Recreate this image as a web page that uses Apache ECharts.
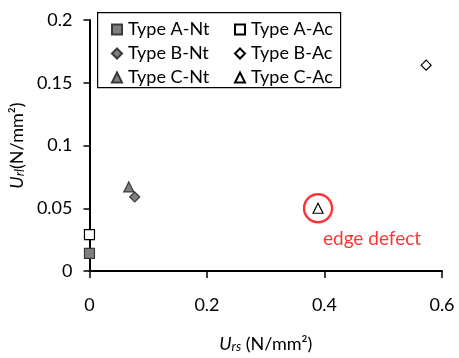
<!DOCTYPE html>
<html>
<head>
<meta charset="utf-8">
<script src="https://cdn.jsdelivr.net/npm/echarts@6/dist/echarts.min.js"></script>
<style>html,body{margin:0;padding:0;background:#fff}#c{width:459px;height:358px}</style>
</head>
<body>
<div id="c"></div>
<script>
// Data
const seriesNames = ['Type A-Nt', 'Type A-Ac', 'Type B-Nt', 'Type B-Ac', 'Type C-Nt', 'Type C-Ac'];
const typeANt = [[0, 0.014]];
const typeAAc = [[0, 0.029]];
const typeBNt = [[0.077, 0.059]];
const typeBAc = [[0.573, 0.164]];
const typeCNt = [[0.067, 0.067]];
const typeCAc = [[0.389, 0.050]];
const highlightedPoint = typeCAc;
const annotationText = 'edge defect';
const xTicks = [0, 0.6, 0.2];   // min, max, interval
const yTicks = [0, 0.2, 0.05];

const FONT = 'Lato';
const diamond = 'path://M5,0 L10,5 L5,10 L0,5 Z';
const gray = '#7f7f7f';
const dark = '#3a3a3a';

function sc(name, data, symbol, size, fill, border) {
  return {
    name: name, type: 'scatter', data: data, symbol: symbol, symbolSize: size,
    clip: false, z: 3,
    itemStyle: { color: fill, borderColor: border, borderWidth: 1.2, opacity: 1 },
    emphasis: { disabled: true }
  };
}

const nameRich = {
  u: { fontFamily: FONT, fontSize: 18, fontStyle: 'italic', color: '#000', verticalAlign: 'bottom', lineHeight: 22 },
  s: { fontFamily: FONT, fontSize: 13, fontStyle: 'italic', color: '#000', verticalAlign: 'bottom', lineHeight: 14 },
  n: { fontFamily: FONT, fontSize: 18, color: '#000', verticalAlign: 'bottom', lineHeight: 22 }
};

const chart = echarts.init(document.getElementById('c'));
chart.setOption({
  animation: false,
  backgroundColor: '#fff',
  textStyle: { fontFamily: FONT },
  grid: { left: 87, right: 17, top: 20, bottom: 86 },
  xAxis: {
    type: 'value', min: xTicks[0], max: xTicks[1], interval: xTicks[2],
    splitLine: { show: false },
    axisLine: { lineStyle: { color: '#000', width: 2 } },
    axisTick: { show: true, length: 7, lineStyle: { color: '#000', width: 1.5 } },
    axisLabel: { fontFamily: FONT, fontSize: 18, color: '#000', margin: 25 },
    name: '{u|U}{s|rs}{n| (N/mm²)}',
    nameLocation: 'middle', nameGap: 60,
    nameTextStyle: { rich: nameRich }
  },
  yAxis: {
    type: 'value', min: yTicks[0], max: yTicks[1], interval: yTicks[2],
    splitLine: { show: false },
    axisLine: { show: true, lineStyle: { color: '#000', width: 2 } },
    axisTick: { show: true, length: 6, lineStyle: { color: '#000', width: 1.5 } },
    axisLabel: { fontFamily: FONT, fontSize: 18, color: '#000', margin: 17 },
    name: '{u|U}{s|rl}{n|(N/mm²)}',
    nameLocation: 'middle', nameGap: 51, nameRotate: 90,
    nameTextStyle: { rich: nameRich }
  },
  graphic: [{
    type: 'rect', left: 97, top: 12, z: 1,
    shape: { width: 243, height: 75 },
    style: { fill: '#fff', stroke: '#000', lineWidth: 1.2 }
  }],
  legend: [{
    orient: 'vertical', left: 106, top: 15, itemGap: 5,
    itemWidth: 10, itemHeight: 10, z: 5,
    data: [seriesNames[0], seriesNames[2], seriesNames[4]],
    textStyle: { fontFamily: FONT, fontSize: 18, color: '#000', lineHeight: 19, padding: [0, 0, 0, 1] },
    selectedMode: false
  }, {
    orient: 'vertical', left: 229, top: 15, itemGap: 5,
    itemWidth: 10, itemHeight: 10, z: 5,
    data: [seriesNames[1], seriesNames[3], seriesNames[5]],
    textStyle: { fontFamily: FONT, fontSize: 18, color: '#000', lineHeight: 19, padding: [0, 0, 0, 1] },
    selectedMode: false
  }],
  series: [
    sc(seriesNames[0], typeANt, 'rect', 10, gray, dark),
    sc(seriesNames[1], typeAAc, 'rect', 10, '#fff', '#000'),
    sc(seriesNames[2], typeBNt, diamond, 10, gray, dark),
    sc(seriesNames[3], typeBAc, diamond, 10, '#fff', '#000'),
    sc(seriesNames[4], typeCNt, 'triangle', 10, gray, dark),
    sc(seriesNames[5], typeCAc, 'triangle', 10, '#fff', '#000'),
    {
      name: 'highlight', type: 'scatter', data: highlightedPoint, symbol: 'circle', symbolSize: 28,
      clip: false, z: 4, silent: true,
      itemStyle: { color: 'transparent', borderColor: '#ff0000', borderWidth: 2.4 },
      label: {
        show: true, position: 'inside', offset: [54, 31],
        formatter: annotationText, fontFamily: FONT, fontSize: 19, color: '#ff0000'
      }
    }
  ]
});
</script>
</body>
</html>
